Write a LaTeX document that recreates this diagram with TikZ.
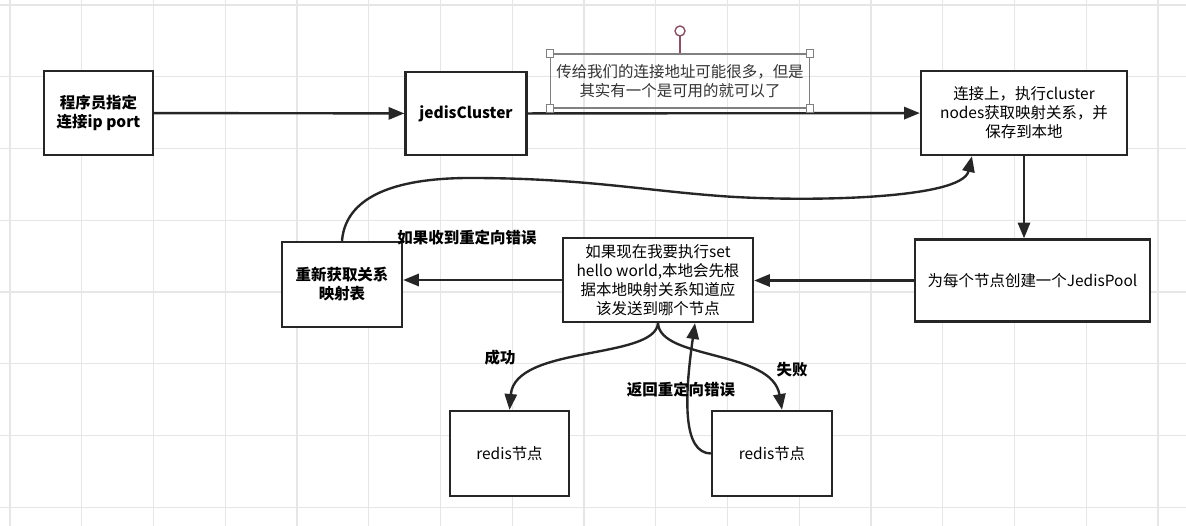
\documentclass[tikz,border=0pt]{standalone}
\usepackage{fontspec}
\setmainfont{Noto Sans CJK SC}
\usetikzlibrary{arrows.meta,calc}

\definecolor{gridgray}{RGB}{230,230,230}
\definecolor{handlered}{RGB}{140,80,100}

\begin{document}
\begin{tikzpicture}
  [x=0.02cm,y=-0.02cm,
   every node/.style={font=\fontsize{8.8}{10.8}\selectfont,align=center},
   box/.style={draw=black!85,line width=1.35pt,fill=white,inner sep=2pt},
   boldbox/.style={box,font=\fontsize{8.8}{10.8}\selectfont\bfseries},
   lbl/.style={font=\fontsize{8.8}{10.8}\selectfont\bfseries,inner sep=0pt},
   arr/.style={line width=1.35pt,draw=black!85,-{Triangle[length=9pt,width=7pt]}},
   handle/.style={draw=gray,fill=white,line width=0.5pt,minimum size=0.15cm,inner sep=0pt}]
  \useasboundingbox (0,0) rectangle (1186,526);
  \fill[white] (0,0) rectangle (1186,526);
  \foreach \gx in {0,...,16}
    \draw[gridgray,line width=0.8pt] (10+71.75*\gx,0) -- (10+71.75*\gx,526);
  \foreach \gy in {0,...,7}
    \draw[gridgray,line width=0.8pt] (0,5+71.75*\gy) -- (1186,5+71.75*\gy);

  \node[boldbox,minimum width=2.18cm,minimum height=1.68cm] (dev) at (98.5,113) {程序员指定\\连接ip port};
  \node[boldbox,minimum width=2.42cm,minimum height=1.66cm] (jc) at (466,113.5) {jedisCluster};
  \node[box,minimum width=4.12cm,minimum height=1.68cm] (conn) at (1024,113) {连接上，执行cluster\\nodes获取映射关系，并\\保存到本地};
  \node[box,minimum width=4.7cm,minimum height=1.64cm] (pool) at (1032.5,280.5) {为每个节点创建一个JedisPool};
  \node[box,minimum width=3.8cm,minimum height=1.68cm] (exec) at (658,280) {如果现在我要执行set\\hello world,本地会先根\\据本地映射关系知道应\\该发送到哪个节点};
  \node[boldbox,minimum width=2.4cm,minimum height=1.7cm] (remap) at (342,284.5) {重新获取关系\\映射表};
  \node[box,minimum width=2.38cm,minimum height=1.7cm] (ok) at (509.5,453.5) {redis节点};
  \node[box,minimum width=2.4cm,minimum height=1.7cm] (fail) at (772,453.5) {redis节点};

  \draw[arr] (dev) -- (jc);
  \draw[arr] (jc) -- (conn);
  \draw[arr] (conn.south) -- (conn.south |- pool.north);
  \draw[arr] (pool.west) -- (pool.west -| exec.east);
  \draw[arr] (exec.west) -- (exec.west -| remap.east);
  \draw[arr] (remap.north) .. controls (346,192) and (405,178) .. (470,178)
    .. controls (580,178) and (640,190) .. (720,196)
    .. controls (800,202) and (962,200) .. ($(conn.south west)!0.25!(conn.south east)$);
  \draw[arr] (exec.south) .. controls (655,360) and (515,345) .. (ok.north);
  \draw[arr] (exec.south) .. controls (660,360) and (772,350) .. ([xshift=0.2cm]fail.north);
  \draw[arr] (fail.west) .. controls (683,453) and (684,400) .. ([xshift=0.74cm]exec.south);

  \node[lbl] (redirect) at (467,238) {如果收到重定向错误};
  \node[lbl] (success) at (500,358) {成功};
  \node[lbl] (failure) at (792,370) {失败};
  \node[lbl] (back) at (681,390) {返回重定向错误};

  % selected text box with its handles
  \node[draw=gray,line width=0.6pt,minimum width=5.16cm,minimum height=1.08cm,text=black!80] (note) at (680,81)
    {传给我们的连接地址可能很多，但是\\其实有一个是可用的就可以了};
  \draw[handlered,line width=0.8pt] (note.north) -- (680,36);
  \node[draw=handlered,line width=0.8pt,circle,minimum size=0.2cm,inner sep=0pt] (rot) at (680,31) {};
  \foreach \corner in {north west,north east,south west,south east}
    \node[handle] at (note.\corner) {};
\end{tikzpicture}
\end{document}
